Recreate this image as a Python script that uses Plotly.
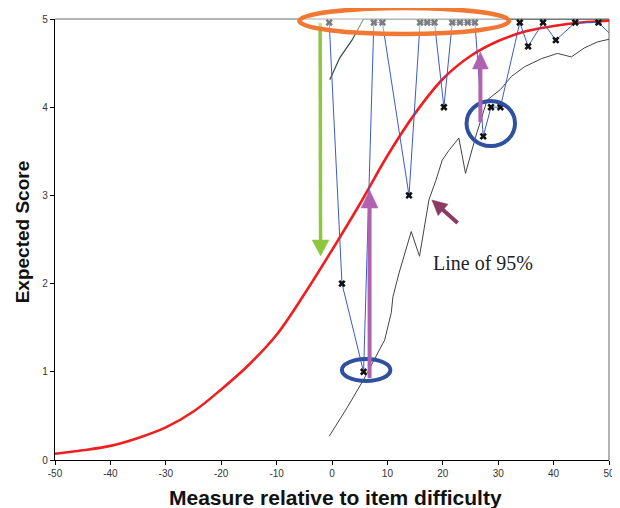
import math
import plotly.graph_objects as go

# ---------------- data ----------------
curve_x = [-50, -45, -40, -35, -30, -25, -20, -15, -10, -5, 0, 5, 10, 15, 20, 25, 30, 35, 40, 45, 50]
curve_y = [0.07, 0.11, 0.16, 0.25, 0.37, 0.55, 0.80, 1.08, 1.42, 1.88, 2.38, 2.90, 3.45, 3.93, 4.32, 4.58, 4.75, 4.86, 4.92, 4.96, 4.98]

obs_x = [-0.5, 1.8, 5.7, 7.55, 9.1, 13.9, 15.9, 17.2, 18.5, 20.2, 21.7, 23.1, 24.5, 25.8,
         27.3, 28.7, 30.4, 33.9, 35.4, 38.1, 40.4, 43.9, 48.1, 52]
obs_y = [4.96, 2, 1, 4.96, 4.96, 3, 4.96, 4.96, 4.96, 4, 4.96, 4.96, 4.96, 4.96,
         3.67, 4, 4, 4.96, 4.69, 4.96, 4.76, 4.96, 4.96, 4.72]

upper_x = [-0.4, 1.4, 3.6, 5.7, 50]
upper_y = [4.31, 4.56, 4.76, 5.0, 5.0]

lower_x = [-0.5, 2.7, 5.7, 8.0, 9.5, 10.7, 11.0, 12.1, 14.3, 15.8, 17.5, 18.75, 19.9, 21.1,
           22.9, 24.1, 25.9, 28.0, 30.4, 32.4, 34.8, 37.8, 40.7, 43.2, 45.5, 47.9, 50]
lower_y = [0.27, 0.59, 0.91, 1.19, 1.36, 1.67, 1.85, 2.12, 2.59, 2.31, 2.95, 3.17, 3.40, 3.51,
           3.65, 3.25, 3.66, 4.08, 4.20, 4.35, 4.46, 4.55, 4.61, 4.57, 4.67, 4.74, 4.77]

x_ticks = [-50, -40, -30, -20, -10, 0, 10, 20, 30, 40, 50]
y_ticks = [0, 1, 2, 3, 4, 5]

x_title = "Measure relative to item difficulty"
y_title = "Expected Score"
note_text = "Line of 95%"

# ---------------- layout geometry ----------------
OFF = 8                      # default page body margin
W_FIG, H_FIG = 612, 500
L, T, PW, PH = 55, 19, 560, 441   # plot area in window pixels


def px(x):
    return (x - L) / PW


def py(y):
    return (T + PH - y) / PH


def arrow(tail, tip, shaft, head_len, head_w, color):
    (x0, y0), (x1, y1) = tail, tip
    dx, dy = x1 - x0, y1 - y0
    d = math.hypot(dx, dy)
    ux, uy = dx / d, dy / d
    bx, by = x1 - ux * head_len, y1 - uy * head_len
    nx, ny = -uy, ux
    return [
        dict(type="line", xref="paper", yref="paper",
             x0=px(x0), y0=py(y0), x1=px(bx + ux), y1=py(by + uy),
             line=dict(color=color, width=shaft), layer="above"),
        dict(type="path", xref="paper", yref="paper",
             path="M {} {} L {} {} L {} {} Z".format(
                 px(x1), py(y1),
                 px(bx + nx * head_w / 2), py(by + ny * head_w / 2),
                 px(bx - nx * head_w / 2), py(by - ny * head_w / 2)),
             fillcolor=color, line=dict(color=color, width=0.5), layer="above"),
    ]


def ellipse(x0, x1, y0, y1, color, width, fill="rgba(0,0,0,0)"):
    return dict(type="circle", xref="paper", yref="paper",
                x0=px(x0), x1=px(x1), y0=py(y1), y1=py(y0),
                line=dict(color=color, width=width), fillcolor=fill, layer="above")


fig = go.Figure()

fig.add_trace(go.Scatter(x=curve_x, y=curve_y, mode="lines",
                         line=dict(color="#F01E1E", width=2.6, shape="spline", smoothing=1.0),
                         hoverinfo="skip", showlegend=False))
fig.add_trace(go.Scatter(x=lower_x, y=lower_y, mode="lines",
                         line=dict(color="#444444", width=1), showlegend=False))
fig.add_trace(go.Scatter(x=upper_x, y=upper_y, mode="lines",
                         line=dict(color="#2F4F4F", width=1.2), showlegend=False))
fig.add_trace(go.Scatter(x=obs_x, y=obs_y, mode="lines+markers",
                         line=dict(color="#3A5CC8", width=1),
                         marker=dict(symbol="x", size=6.5, color="#111111",
                                     line=dict(width=0)),
                         showlegend=False))

shapes = []
shapes.append(dict(type="line", xref="paper", yref="paper", x0=0, x1=1, y0=1, y1=1,
                   line=dict(color="#999999", width=1.5), layer="below"))
shapes.append(dict(type="line", xref="paper", yref="paper", x0=1, x1=1, y0=0, y1=1,
                   line=dict(color="#999999", width=1.5), layer="below"))

shapes += arrow((323, 23), (323.5, 256), 3.5, 16, 17, "#8DC63F")
shapes.append(ellipse(345, 394, 359, 381, "#2F50A0", 4))
shapes.append(ellipse(471, 520, 101, 146, "#2F50A0", 4))
shapes += arrow((373, 378), (373, 190), 4, 18, 17, "#B061B0")
shapes += arrow((485, 122), (485, 52), 4, 17, 16, "#B061B0")
shapes += arrow((462, 223), (436, 200), 4, 15, 15, "#8B3A62")
shapes.append(ellipse(302, 514, 8, 34, "#F07832", 4.5, fill="rgba(255,255,255,0.45)"))

annotations = [
    dict(text=note_text, xref="paper", yref="paper", x=px(435), y=py(263),
         xanchor="left", yanchor="middle", showarrow=False,
         font=dict(family="Liberation Serif, Times New Roman, serif", size=20, color="#222222")),
    dict(text="<b>" + x_title + "</b>", xref="paper", yref="paper", x=px(339), y=py(497),
         xanchor="center", yanchor="middle", showarrow=False,
         font=dict(family="Liberation Sans, Arial, sans-serif", size=21, color="#111111")),
    dict(text="<b>" + y_title + "</b>", xref="paper", yref="paper", x=px(22), y=py(232),
         xanchor="center", yanchor="middle", showarrow=False, textangle=-90,
         font=dict(family="Liberation Sans, Arial, sans-serif", size=19, color="#111111")),
]

axis_common = dict(showgrid=False, zeroline=False, showline=True, linecolor="#000000",
                   linewidth=1.2, ticks="outside", ticklen=4, tickcolor="#000000",
                   ticklabeloverflow="allow",
                   tickfont=dict(family="Liberation Sans, Arial, sans-serif", size=10, color="#333333"))

fig.update_layout(
    width=W_FIG, height=H_FIG,
    margin=dict(l=L - OFF, r=W_FIG - (L - OFF) - PW, t=T - OFF, b=H_FIG - (T - OFF) - PH),
    paper_bgcolor="white", plot_bgcolor="white",
    xaxis=dict(range=[-50, 50], tickvals=x_ticks, ticktext=[str(v) for v in x_ticks], **axis_common),
    yaxis=dict(range=[0, 5], tickvals=y_ticks, ticktext=[str(v) for v in y_ticks], **axis_common),
    shapes=shapes, annotations=annotations, showlegend=False,
)

fig.write_html("out.html")
